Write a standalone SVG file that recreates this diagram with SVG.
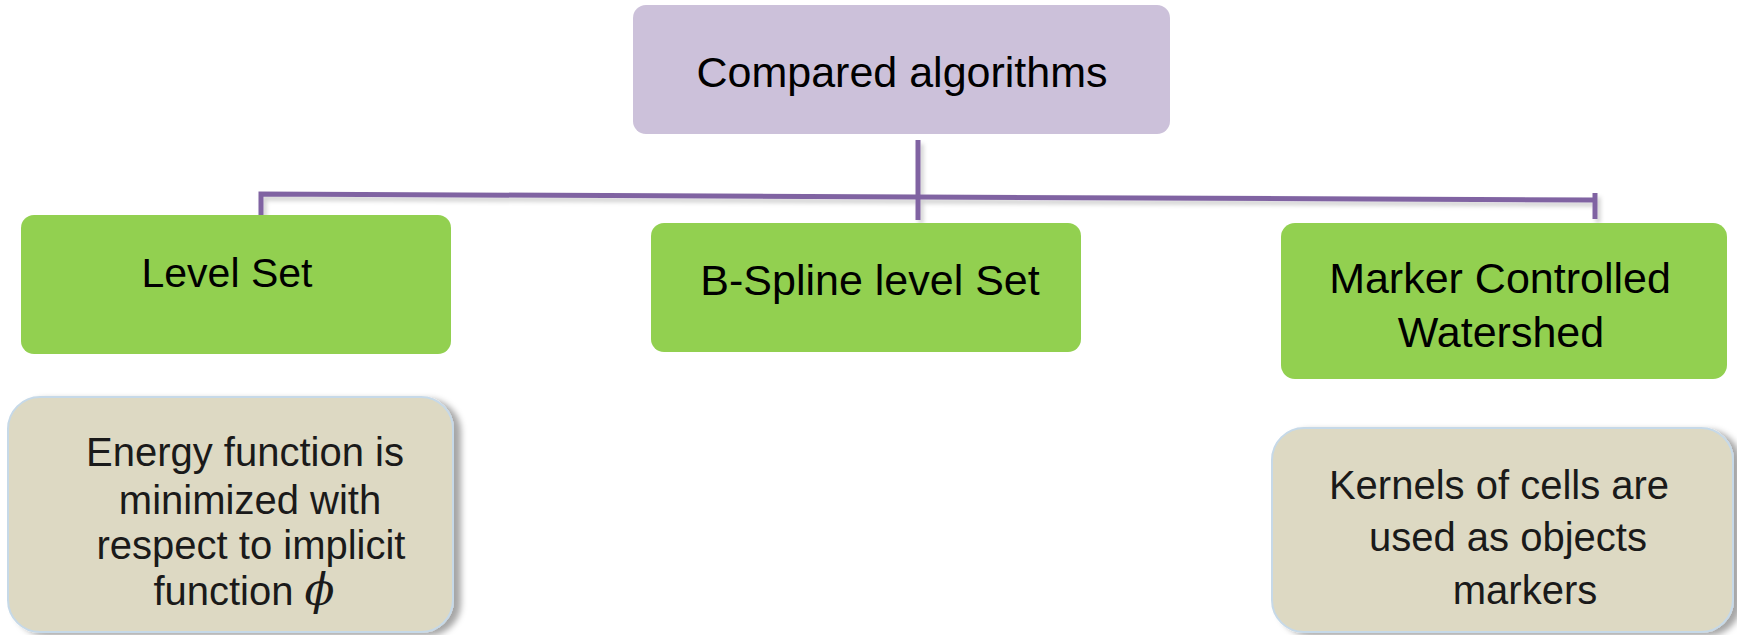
<svg xmlns="http://www.w3.org/2000/svg" width="1737" height="635" viewBox="0 0 1737 635">
  <style>
    .lbl { font-family: "Liberation Sans", Arial, sans-serif; fill: #000; text-anchor: middle; }
    .big { font-size: 43px; }
    .small { font-size: 40px; fill: #1a1a1a; }
    .root { fill: #CCC1DA; }
    .green { fill: #92D050; }
    .beige { fill: #DDD9C3; stroke: #C6D9E8; stroke-width: 2; }
    .conn { fill: none; stroke: #8064A2; stroke-width: 5; stroke-linecap: butt; stroke-linejoin: miter; }
  </style>
  <defs>
    <filter id="shadow" x="-10%" y="-10%" width="125%" height="125%">
      <feDropShadow dx="7" dy="3" stdDeviation="3" flood-color="#000" flood-opacity="0.35"/>
    </filter>
    <filter id="lshadow" x="-5%" y="-50%" width="110%" height="300%">
      <feDropShadow dx="3" dy="4" stdDeviation="2" flood-color="#000" flood-opacity="0.18"/>
    </filter>
  </defs>
  <rect width="1737" height="635" fill="#fff"/>

  <g id="connectors" filter="url(#lshadow)">
    <path class="conn" d="M261,216 V194 L918,197 L1595,200"/>
    <path class="conn" d="M918,140 V220"/>
    <path class="conn" d="M1595,193 V219"/>
  </g>

  <g id="node-root">
    <rect class="root" x="633" y="5" width="537" height="129" rx="13"/>
    <text class="lbl big" x="902" y="87">Compared algorithms</text>
  </g>

  <g id="node-levelset">
    <rect class="green" x="21" y="215" width="430" height="139" rx="13"/>
    <text class="lbl" font-size="41" x="227" y="287">Level Set</text>
  </g>

  <g id="node-bspline">
    <rect class="green" x="651" y="223" width="430" height="129" rx="13"/>
    <text class="lbl big" x="870" y="295">B-Spline level Set</text>
  </g>

  <g id="node-watershed">
    <rect class="green" x="1281" y="223" width="446" height="156" rx="14"/>
    <text class="lbl big" x="1500" y="293">Marker Controlled</text>
    <text class="lbl big" x="1501" y="347">Watershed</text>
  </g>

  <g id="node-energy">
    <rect class="beige" x="8" y="397" width="445" height="235" rx="32" filter="url(#shadow)"/>
    <text class="lbl small" x="245" y="466">Energy function is</text>
    <text class="lbl small" x="250" y="514">minimized with</text>
    <text class="lbl small" x="251" y="559">respect to implicit</text>
    <text class="lbl small" x="244" y="605">function <tspan font-style="italic" font-family="'DejaVu Serif', serif" font-size="44">ϕ</tspan></text>
  </g>

  <g id="node-kernels">
    <rect class="beige" x="1272" y="428" width="461" height="204" rx="32" filter="url(#shadow)"/>
    <text class="lbl small" x="1499" y="499">Kernels of cells are</text>
    <text class="lbl small" x="1508" y="551">used as objects</text>
    <text class="lbl small" x="1525" y="604">markers</text>
  </g>
</svg>
